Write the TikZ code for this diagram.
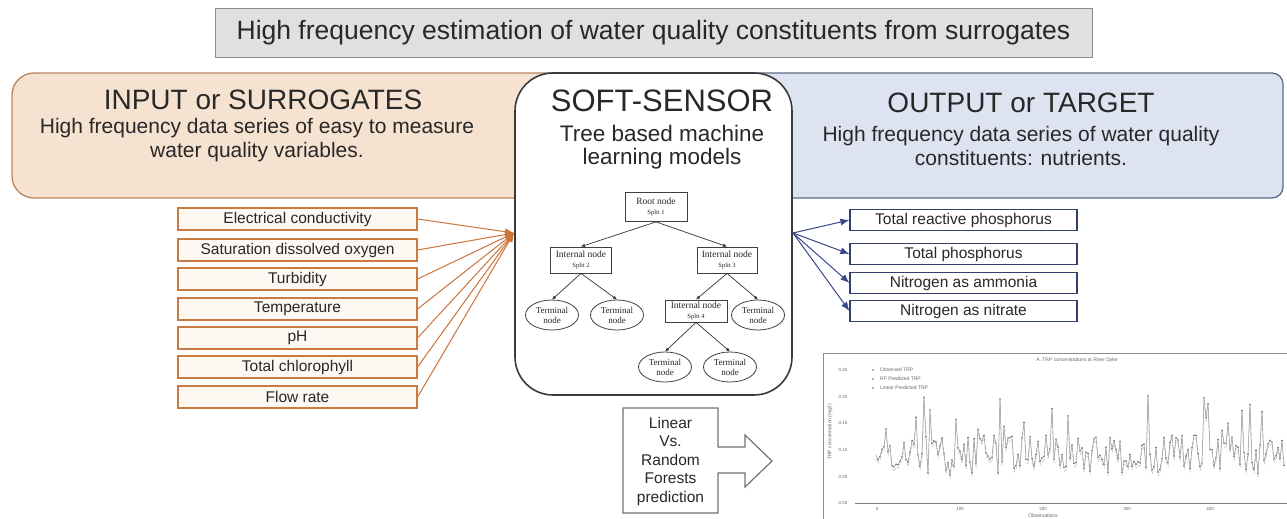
\documentclass[tikz,border=0pt]{standalone}
\usepackage{fontspec}
\setmainfont{Liberation Sans}
\newfontfamily\treefont{Liberation Serif}
\usetikzlibrary{arrows.meta,shapes.geometric}
\definecolor{orfill}{RGB}{246,226,208}
\definecolor{orline}{RGB}{185,133,94}
\definecolor{itemline}{RGB}{201,123,66}
\definecolor{itemfill}{RGB}{254,248,243}
\definecolor{orarrow}{RGB}{205,116,55}
\definecolor{blfill}{RGB}{221,227,241}
\definecolor{blline}{RGB}{94,106,134}
\definecolor{navy}{RGB}{51,64,110}
\definecolor{blarrow}{RGB}{58,71,138}
\definecolor{softline}{RGB}{58,58,58}
\definecolor{txt}{RGB}{40,40,40}
\newcommand{\fs}[2]{\fontsize{#1}{#2}\selectfont}
\tikzset{
  every node/.style={text=txt},
  titlebox/.style={draw=black!45, fill=black!12, minimum width=877pt, minimum height=49pt, inner sep=0pt, font=\fs{26.5}{30}},
  bigtitle/.style={font=\fs{28}{32}, inner sep=0pt},
  subtext/.style={font=\fs{21}{24}, align=center, inner sep=0pt},
  inbox/.style={draw=itemline, line width=1.1pt, fill=itemfill, minimum width=239pt, minimum height=22pt, inner sep=0pt, font=\fs{15.5}{18}},
  outbox/.style={draw=navy, line width=1.1pt, fill=white, minimum width=227pt, minimum height=21pt, inner sep=0pt, font=\fs{15.5}{18}},
  inarrow/.style={draw=orarrow, line width=1pt, -{Latex[length=9pt,width=7pt]}},
  outarrow/.style={draw=blarrow, line width=1pt, -{Latex[length=9pt,width=7pt]}},
  treebox/.style={draw=black!75, line width=0.8pt, fill=white, align=center, inner sep=0pt, font=\treefont\fs{9.5}{10}},
  termnode/.style={ellipse, draw=black!75, line width=0.8pt, fill=white, align=center, inner sep=0pt, minimum width=53pt, minimum height=30pt, font=\treefont\fs{9}{10}},
  treeedge/.style={draw=black!80, line width=0.7pt, -{Latex[length=4pt,width=3.5pt]}},
  tiny/.style={font=\fs{5}{6}, text=black!60, inner sep=0pt},
}
\begin{document}
\begin{tikzpicture}[x=1pt,y=-1pt]
\useasboundingbox (0,0) rectangle (1287,519);
\clip (0,0) rectangle (1287,519);
\fill[white] (0,0) rectangle (1287,519);

% title
\node[titlebox] (title) at (653.5,32.5) {High frequency estimation of water quality constituents from surrogates};

% input / output panels
\draw[draw=orline, line width=1.3pt, fill=orfill, rounded corners=22pt] (12,73) rectangle (590,198);
\draw[draw=blline, line width=1.3pt, fill=blfill, rounded corners=11pt] (720,73) rectangle (1283,198);

% soft sensor
\node[draw=softline, line width=1.6pt, fill=white, rounded corners=38pt, minimum width=277pt, minimum height=322pt, inner sep=0pt] (soft) at (653.5,234) {};

\node[bigtitle] (intitle) at (263,100) {INPUT or SURROGATES};
\node[subtext] (insub) at (257,140) {High frequency data series of easy to measure\\water quality variables.};
\node[bigtitle] (outtitle) at (1021,103) {OUTPUT or TARGET};
\node[subtext] (outsub) at (1021,146) {High frequency data series of water quality\\constituents: nutrients.};
\node[font=\fs{31}{34}, inner sep=0pt] (softtitle) at (662,101) {SOFT-SENSOR};
\node[font=\fs{22.5}{23}, align=center, inner sep=0pt] (softsub) at (662,147) {Tree based machine\\learning models};

% tree
\node[treebox, minimum width=62pt, minimum height=29pt] (root) at (656,207) {Root node\\{\fs{6.5}{7}Split 1}};
\node[treebox, minimum width=61pt, minimum height=26pt] (int2) at (581,260) {Internal node\\{\fs{6.5}{7}Split 2}};
\node[treebox, minimum width=60pt, minimum height=26pt] (int3) at (727,260) {Internal node\\{\fs{6.5}{7}Split 3}};
\node[treebox, minimum width=62pt, minimum height=22pt] (int4) at (696,311) {Internal node\\{\fs{6.5}{7}Split 4}};
\node[termnode] (t1) at (552,315) {Terminal\\node};
\node[termnode] (t2) at (617,315) {Terminal\\node};
\node[termnode] (t3) at (758,315) {Terminal\\node};
\node[termnode] (t4) at (665,367) {Terminal\\node};
\node[termnode] (t5) at (730,367) {Terminal\\node};
\draw[treeedge] (root.south) -- (int2.north);
\draw[treeedge] (root.south) -- (int3.north);
\draw[treeedge] (int2.south) -- (t1.north);
\draw[treeedge] (int2.south) -- (t2.north);
\draw[treeedge] (int3.south) -- (int4.north);
\draw[treeedge] (int3.south) -- (t3.north);
\draw[treeedge] (int4.south) -- (t4.north);
\draw[treeedge] (int4.south) -- (t5.north);

% input list
\coordinate (in) at (514,233);
\node[inbox] (i1) at (297.5,219) {Electrical conductivity};
\node[inbox] (i2) at (297.5,250) {Saturation dissolved oxygen};
\node[inbox] (i3) at (297.5,279) {Turbidity};
\node[inbox] (i4) at (297.5,309) {Temperature};
\node[inbox] (i5) at (297.5,338) {pH};
\node[inbox] (i6) at (297.5,367) {Total chlorophyll};
\node[inbox] (i7) at (297.5,397) {Flow rate};
\foreach \k in {1,...,7} {\draw[inarrow] (i\k.east) -- (in);}

% output list
\coordinate (out) at (793,233);
\node[outbox] (o1) at (963.5,220) {Total reactive phosphorus};
\node[outbox] (o2) at (963.5,254) {Total phosphorus};
\node[outbox] (o3) at (963.5,283) {Nitrogen as ammonia};
\node[outbox] (o4) at (963.5,311) {Nitrogen as nitrate};
\foreach \k in {1,...,4} {\draw[outarrow] (out) -- (o\k.west);}

% linear vs random forests block arrow
\draw[draw=black!55, line width=1.2pt, fill=white] (623,408) -- (718,408) -- (718,447) -- (745,447) -- (745,435) -- (772,461) -- (745,487) -- (745,473) -- (718,473) -- (718,513) -- (623,513) -- cycle;
\node[font=\fs{15.5}{18.5}, align=center, inner sep=0pt] (lin) at (670.5,461) {Linear\\Vs.\\Random\\Forests\\prediction};

% plot
\draw[black!45, line width=1pt] (823,519) -- (823,353) -- (1287,353);
\node[tiny] (ptitle) at (1077,360) {A. TRP concentrations at River Dyke};
\node[tiny, rotate=90] (ylab) at (830,432) {TRP concentration (mg/l)};
\foreach \v/\yy in {0.25/370,0.20/397,0.15/423,0.10/450,0.05/477,0.00/503} {
  \node[tiny, font=\fs{4.5}{5}] at (843,\yy) {\v};
}
\draw[black!50, line width=0.6pt] (855,503) -- (1287,503);
\foreach \v/\xx in {0/877,100/960,200/1043,300/1127,400/1210} {
  \node[tiny, font=\fs{4.5}{5}] at (\xx,509) {\v};
}
\node[tiny] (xlab) at (1043,516) {Observations};
\fill[black!60] (873,370) circle (0.9);
\fill[black!60] (873,379) circle (0.9);
\fill[black!60] (873,388) circle (0.9);
\node[tiny, anchor=west] at (880,370) {Observed TRP};
\node[tiny, anchor=west] at (880,379) {RF Predicted TRP};
\node[tiny, anchor=west] at (880,388) {Linear Predicted TRP};
\pgfmathsetseed{42}
\foreach \i [evaluate=\i as \yv using {455+20*rand-(rnd>0.8)*50*rnd}, remember=\yv as \yp (initially 455)] in {1,...,204} {
  \draw[black!45, line width=0.5pt] ({876+2*(\i-1)},\yp) -- ({876+2*\i},\yv);
  \draw[black!30, line width=0.4pt, dashed] ({876+2*(\i-1)},\yp+4) -- ({876+2*\i},\yv+3);
  \fill[black!65] ({876+2*\i},\yv) circle (0.8);
}
\end{tikzpicture}
\end{document}
